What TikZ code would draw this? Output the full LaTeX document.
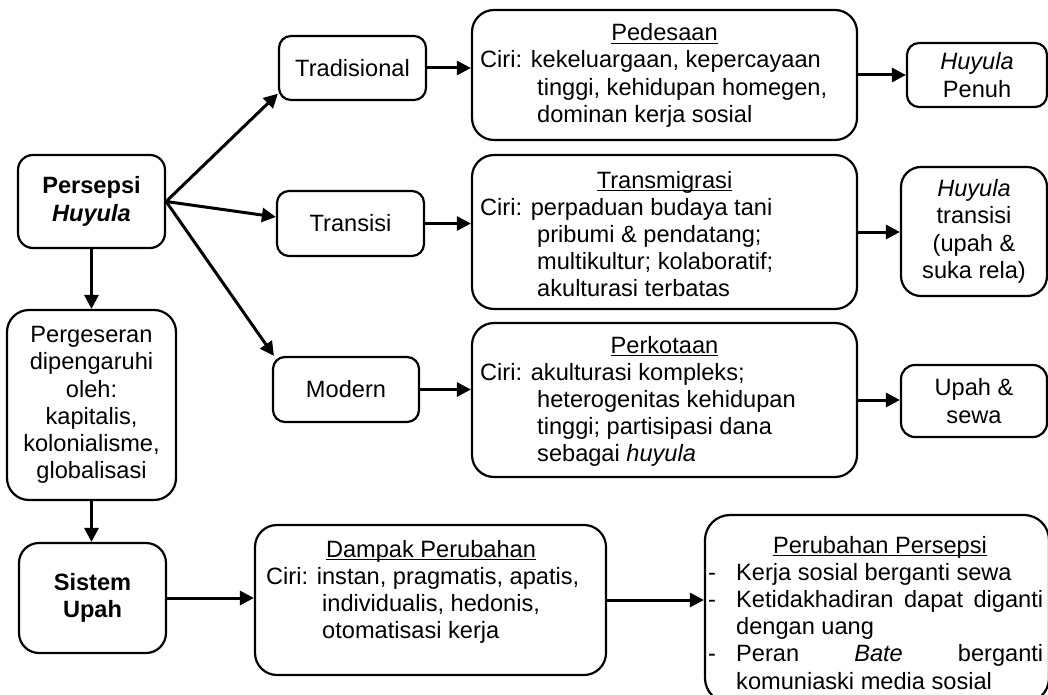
\documentclass[tikz,border=0pt]{standalone}
\usepackage{fontspec}
\setmainfont{Liberation Sans}
\usetikzlibrary{arrows.meta}
\newcommand\fs{\fontsize{23.6}{27.3}\selectfont}
\newcommand\myul[1]{\setbox0=\hbox{#1}\rlap{\rule[-3.4pt]{\wd0}{1.6pt}}\box0}
\begin{document}
\begin{tikzpicture}[x=1pt,y=-1pt,
  every node/.style={font=\fs, inner sep=0pt},
  box/.style={draw, line width=2.2pt, align=center},
  arr/.style={line width=3pt, -{Triangle[length=14pt,width=14pt]}},
  txt/.style={anchor=base west},
  ttl/.style={anchor=base}]
\useasboundingbox (0,0) rectangle (1048,695);

% left column
\node[box, minimum width=147pt, minimum height=93pt, rounded corners=15pt, font=\fs\bfseries] (persepsi) at (91.5,201.5) {Persepsi\\\textit{Huyula}};
\node[box, minimum width=169pt, minimum height=190pt, rounded corners=22pt] (perg) at (91.5,405) {Pergeseran\\dipengaruhi\\oleh:\\kapitalis,\\kolonialisme,\\globalisasi};
\node[box, minimum width=147pt, minimum height=110pt, rounded corners=20pt, font=\fs\bfseries] (sistem) at (92.5,598) {Sistem\\Upah};

% second column
\node[box, minimum width=147pt, minimum height=64pt, rounded corners=12pt] (trad) at (352.5,68) {Tradisional};
\node[box, minimum width=147pt, minimum height=65pt, rounded corners=12pt] (transisi) at (350.5,223.5) {Transisi};
\node[box, minimum width=146pt, minimum height=65pt, rounded corners=12pt] (modern) at (346,389.5) {Modern};

% third column boxes
\node[box, minimum width=385pt, minimum height=130pt, rounded corners=22pt] (ped) at (664.5,75) {};
\node[box, minimum width=385pt, minimum height=154pt, rounded corners=22pt] (transm) at (664.5,232) {};
\node[box, minimum width=385pt, minimum height=154pt, rounded corners=22pt] (perk) at (664.5,400) {};

% texts of third column
\node[ttl] (pedt) at (664.5,41) {\myul{Pedesaan}};
\node[txt] (pedb) at (480,68) {\begin{tabular}[t]{@{}l@{}}Ciri: kekeluargaan, kepercayaan\\\hspace*{57pt}tinggi, kehidupan homegen,\\\hspace*{57pt}dominan kerja sosial\end{tabular}};

\node[ttl] (transmt) at (664.5,188) {\myul{Transmigrasi}};
\node[txt] (transmb) at (480,215) {\begin{tabular}[t]{@{}l@{}}Ciri: perpaduan budaya tani\\\hspace*{57pt}pribumi \& pendatang;\\\hspace*{57pt}multikultur; kolaboratif;\\\hspace*{57pt}akulturasi terbatas\end{tabular}};

\node[ttl] (perkt) at (664.5,353) {\myul{Perkotaan}};
\node[txt] (perkb) at (480,380) {\begin{tabular}[t]{@{}l@{}}Ciri: akulturasi kompleks;\\\hspace*{57pt}heterogenitas kehidupan\\\hspace*{57pt}tinggi; partisipasi dana\\\hspace*{57pt}sebagai \textit{huyula}\end{tabular}};

% right column
\node[box, minimum width=140pt, minimum height=64pt, rounded corners=12pt] (hp) at (977,75) {\textit{Huyula}\\Penuh};
\node[box, minimum width=146pt, minimum height=129pt, rounded corners=20pt] (ht) at (974,231.5) {\textit{Huyula}\\transisi\\(upah \&\\suka rela)};
\node[box, minimum width=146pt, minimum height=72pt, rounded corners=14pt] (us) at (974,401) {Upah \&\\sewa};

% bottom row
\node[box, minimum width=351pt, minimum height=150pt, rounded corners=22pt] (dampak) at (430.5,600) {};
\node[ttl] (dampakt) at (431,557) {\myul{Dampak Perubahan}};
\node[txt] (dampakb) at (266,584) {\begin{tabular}[t]{@{}l@{}}Ciri: instan, pragmatis, apatis,\\\hspace*{56pt}individualis, hedonis,\\\hspace*{56pt}otomatisasi kerja\end{tabular}};

\node[box, minimum width=344pt, minimum height=188pt, rounded corners=25pt] (perub) at (877,609) {};
\node[ttl] (perubt) at (880,553) {\myul{Perubahan Persepsi}};
\node[txt] (perubb) at (708,580) {\begin{tabular}[t]{@{}l@{}}\makebox[28pt][l]{-}Kerja sosial berganti sewa\\\makebox[28pt][l]{-}\makebox[307pt][s]{Ketidakhadiran dapat diganti}\\\hspace*{28pt}dengan uang\\\makebox[28pt][l]{-}\makebox[307pt][s]{Peran\hfill\textit{Bate}\hfill berganti}\\\hspace*{28pt}komuniaski media sosial\end{tabular}};

% connectors
\draw[arr] (persepsi.east) -- (trad.199);
\draw[arr] (persepsi.east) -- (transisi.175);
\draw[arr] (persepsi.east) -- (modern.155);
\draw[arr] (persepsi.south) -- (perg.north);
\draw[arr] (perg.south) -- (perg.south |- sistem.north);
\draw[arr] (trad.east) -- (trad.east -| ped.west);
\draw[arr] (transisi.east) -- (transisi.east -| transm.west);
\draw[arr] (modern.east) -- (modern.east -| perk.west);
\draw[arr] (ped.east) -- (ped.east -| hp.west);
\draw[arr] (transm.east) -- (transm.east -| ht.west);
\draw[arr] (perk.east) -- (perk.east -| us.west);
\draw[arr] (sistem.east) -- (sistem.east -| dampak.west);
\draw[arr] (dampak.east) -- (dampak.east -| perub.west);
\end{tikzpicture}
\end{document}
